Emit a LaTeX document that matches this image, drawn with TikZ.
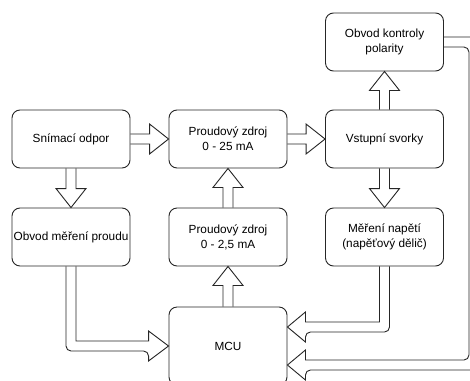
\documentclass[tikz,border=0pt]{standalone}
\usepackage{fontspec}
\setmainfont{Liberation Sans}
\usetikzlibrary{calc}
\tikzset{
 box/.style={draw=black!85, line width=0.9pt, rounded corners=8pt, minimum width=118pt, minimum height=58pt, align=center, inner sep=0pt, font=\fontsize{11.8}{15}\selectfont, fill=white},
 flex/.style={draw=black!85, line width=0.9pt, line join=miter},
}
\newcommand{\flexR}[2]{\draw[flex] ($(#1.east)+(0,-5)$) -- ($(#2.west)+(-19,-5)$) -- ($(#2.west)+(-19,-15)$) -- (#2.west) -- ($(#2.west)+(-19,15)$) -- ($(#2.west)+(-19,5)$) -- ($(#1.east)+(0,5)$);}
\newcommand{\flexU}[2]{\draw[flex] ($(#1.north)+(-5,0)$) -- ($(#2.south)+(-5,19)$) -- ($(#2.south)+(-15,19)$) -- (#2.south) -- ($(#2.south)+(15,19)$) -- ($(#2.south)+(5,19)$) -- ($(#1.north)+(5,0)$);}
\newcommand{\flexD}[2]{\draw[flex] ($(#1.south)+(-5,0)$) -- ($(#2.north)+(-5,-19)$) -- ($(#2.north)+(-15,-19)$) -- (#2.north) -- ($(#2.north)+(15,-19)$) -- ($(#2.north)+(5,-19)$) -- ($(#1.south)+(5,0)$);}
\begin{document}
\begin{tikzpicture}[x=1pt,y=-1pt]
\clip (0,0) rectangle (470,380);
\fill[white] (0,0) rectangle (470,380);
\node[box] (snim) at (71,139) {Snímací odpor};
\node[box] (obvod) at (71,237) {Obvod měření proudu};
\node[box] (pz25) at (228,139) {Proudový zdroj\\0 - 25 mA};
\node[box] (pz2) at (228,237) {Proudový zdroj\\0 - 2,5 mA};
\node[box] (vst) at (384.5,139) {Vstupní svorky};
\node[box] (pol) at (384.5,42) {Obvod kontroly\\polarity};
\node[box] (mer) at (384.5,237) {Měření napětí\\(napěťový dělič)};
\node[box, minimum height=78pt] (mcu) at (228,346) {MCU};
\flexR{snim}{pz25}
\flexR{pz25}{vst}
\flexD{snim}{obvod}
\flexD{vst}{mer}
\flexU{vst}{pol}
\flexU{pz2}{pz25}
\flexU{mcu}{pz2}
\coordinate (t1) at ($(mcu.east)+(0,-19)$);
\coordinate (t2) at ($(mcu.east)+(0,19)$);
\draw[flex] ($(mer.south)+(5,0)$) [rounded corners=5pt] |- ($(t1)+(18,5)$) [sharp corners] -- ($(t1)+(18,15)$) -- (t1) -- ($(t1)+(18,-15)$) -- ($(t1)+(18,-5)$) -| ($(mer.south)+(-5,0)$);
\draw[flex] ($(obvod.south)+(-5,0)$) [rounded corners=5pt] |- ($(mcu.west)+(-20,5)$) [sharp corners] -- ($(mcu.west)+(-20,15)$) -- (mcu.west) -- ($(mcu.west)+(-20,-15)$) -- ($(mcu.west)+(-20,-5)$) -| ($(obvod.south)+(5,0)$);
\draw[flex] ($(pol.east)+(0,-5)$) [rounded corners=5pt] -- ($(pol.east)+(35,-5)$) |- ($(t2)+(18,5)$) [sharp corners] -- ($(t2)+(18,15)$) -- (t2) -- ($(t2)+(18,-15)$) -- ($(t2)+(18,-5)$) [rounded corners=5pt] -| ($(pol.east)+(25,5)$) [sharp corners] -- ($(pol.east)+(0,5)$);
\end{tikzpicture}
\end{document}
